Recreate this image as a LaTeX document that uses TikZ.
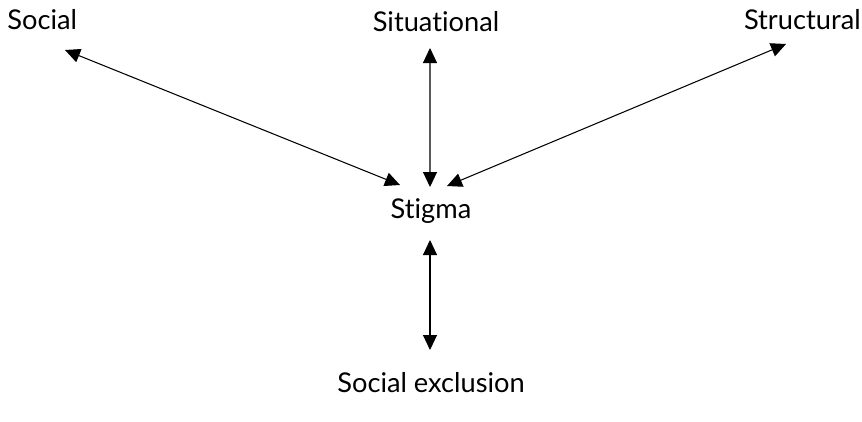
\documentclass[tikz,border=0pt]{standalone}
\usepackage{fontspec}
\setmainfont[Ligatures=NoCommon]{Lato}
\usetikzlibrary{arrows.meta}
\tikzset{lbl/.style={inner sep=0pt, font=\fontsize{15.5}{18}\selectfont},
  link/.style={{Triangle[length=0.3cm,width=0.28cm]}-{Triangle[length=0.3cm,width=0.28cm]}, line width=0.6pt}}

\begin{document}
\begin{tikzpicture}
	\useasboundingbox (0,0) rectangle (17.24,8.42);
		\node[lbl,anchor=west](social) at (0.14,8.02){Social};
		\node[lbl](situational) at (8.72,7.98){Situational};
		\node[lbl,anchor=east](structural) at (17.22,8.02){Structural};
		\node[lbl](stigma) at (8.62,4.20){Stigma};
		\node[lbl](exclusion) at (8.62,0.76){Social exclusion};
		\draw[link]([shift={(1.16,-0.60)}]social.west) to ([shift={(-0.62,0.52)}]stigma.center);
		\draw[link]([shift={(-0.12,-0.52)}]situational.center) to ([shift={(-0.02,0.48)}]stigma.center);
		\draw[link]([shift={(-1.50,-0.48)}]structural.east) to ([shift={(0.32,0.50)}]stigma.center);
		\draw[link]([shift={(-0.02,-0.58)}]stigma.center) to ([shift={(-0.02,0.66)}]exclusion.center);
	\end{tikzpicture}
\end{document}
